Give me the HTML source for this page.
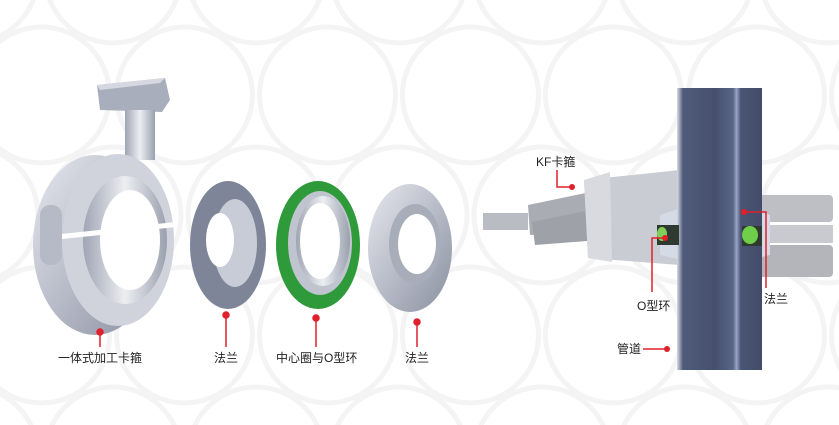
<!DOCTYPE html>
<html><head><meta charset="utf-8"><style>
html,body{margin:0;padding:0;background:#fff;width:839px;height:425px;overflow:hidden}
svg{display:block}
text{font-family:"Liberation Sans","Noto Sans CJK SC",sans-serif;font-size:12px;fill:#222}
</style></head><body>
<svg width="839" height="425" viewBox="0 0 839 425" xmlns="http://www.w3.org/2000/svg">
<defs>
<linearGradient id="met" x1="0" y1="0" x2="1" y2="1">
<stop offset="0" stop-color="#e6e8ee"/><stop offset=".5" stop-color="#b8bcc8"/><stop offset="1" stop-color="#8a8fa0"/></linearGradient>
<linearGradient id="met2" x1="0" y1="0" x2="1" y2="0">
<stop offset="0" stop-color="#a0a5b4"/><stop offset=".5" stop-color="#eceef2"/><stop offset="1" stop-color="#9aa0ae"/></linearGradient>
<linearGradient id="tube" x1="0" y1="0" x2="1" y2="0">
<stop offset="0" stop-color="#d8dce6"/><stop offset=".07" stop-color="#505a7a"/><stop offset=".45" stop-color="#46506e"/><stop offset=".66" stop-color="#5a6688"/><stop offset=".7" stop-color="#9aa6c8"/><stop offset=".75" stop-color="#4a5474"/><stop offset="1" stop-color="#434c6a"/></linearGradient>
<pattern id="bg" width="143" height="240" patternUnits="userSpaceOnUse" x="-30" y="-25">
<circle cx="0" cy="0" r="68" fill="none" stroke="#f4f4f4" stroke-width="5"/>
<circle cx="143" cy="0" r="68" fill="none" stroke="#f4f4f4" stroke-width="5"/>
<circle cx="0" cy="240" r="68" fill="none" stroke="#f4f4f4" stroke-width="5"/>
<circle cx="143" cy="240" r="68" fill="none" stroke="#f4f4f4" stroke-width="5"/>
<circle cx="71.5" cy="120" r="68" fill="none" stroke="#f4f4f4" stroke-width="5"/>
</pattern>
</defs>
<rect width="839" height="425" fill="#fff"/>
<rect width="839" height="425" fill="url(#bg)"/>

<!-- left clamp -->
<polygon points="97,85 165,78 170,100 162,112 100,110" fill="#a9aebc"/>
<polygon points="97,85 165,78 160,83 100,90" fill="#d5d8e0"/>
<rect x="125" y="110" width="30" height="50" fill="url(#met2)"/>
<ellipse cx="95" cy="245" rx="62" ry="90" fill="url(#met)"/>
<ellipse cx="118" cy="240" rx="56" ry="86" fill="#d0d3db"/>
<ellipse cx="125" cy="240" rx="42" ry="64" fill="url(#met2)"/>
<ellipse cx="130" cy="240" rx="30" ry="50" fill="#fff"/>
<rect x="40" y="230" width="135" height="5" fill="#fff" transform="rotate(-6 100 232)"/>
<rect x="40" y="205" width="22" height="60" rx="10" fill="#b6bac6"/>

<!-- flange 1 -->
<ellipse cx="228" cy="245" rx="38" ry="64" fill="#7e8598"/>
<ellipse cx="235" cy="243" rx="22" ry="44" fill="#c8ccd6"/>
<ellipse cx="220" cy="240" rx="14" ry="27" fill="#fff"/>
<!-- green ring -->
<ellipse cx="318" cy="245" rx="42" ry="64" fill="#2f9a3a"/>
<ellipse cx="320" cy="243" rx="32" ry="52" fill="#c0c4ce"/>
<ellipse cx="323" cy="241" rx="27" ry="45" fill="url(#met2)"/>
<ellipse cx="320" cy="241" rx="20" ry="38" fill="#fff"/>
<!-- flange 3 -->
<ellipse cx="410" cy="248" rx="42" ry="64" fill="url(#met)"/>
<ellipse cx="415" cy="244" rx="26" ry="40" fill="#a8adba"/>
<ellipse cx="417" cy="244" rx="19" ry="30" fill="#fff"/>

<g stroke="#e0202a" stroke-width="1.5" fill="#e0202a">
<line x1="100" y1="332" x2="100" y2="347"/><circle cx="100" cy="332" r="3"/>
<line x1="226" y1="315" x2="226" y2="347"/><circle cx="226" cy="315" r="3"/>
<line x1="316" y1="318" x2="316" y2="347"/><circle cx="316" cy="318" r="3"/>
<line x1="417" y1="322" x2="417" y2="347"/><circle cx="417" cy="322" r="3"/>
</g>
<text x="58" y="362">一体式加工卡箍</text>
<text x="214" y="362">法兰</text>
<text x="276" y="362">中心圈与O型环</text>
<text x="405" y="362">法兰</text>

<!-- right diagram -->
<rect x="483" y="213" width="45" height="17" fill="#b9bcc2"/>
<polygon points="528,205 600,190 620,230 530,235" fill="#a9acb2"/>
<polygon points="532,222 600,208 600,240 535,245" fill="#9ea1a8"/>
<polygon points="584,180 680,170 680,265 588,258" fill="#c9ccd2"/>
<polygon points="584,180 610,172 612,262 588,258" fill="#d8dadf"/>
<rect x="750" y="195" width="83" height="27" rx="4" fill="#bdbfc4"/>
<rect x="755" y="225" width="78" height="18" fill="#c8cacf"/>
<rect x="750" y="245" width="83" height="32" rx="4" fill="#b3b5ba"/>
<polygon points="660,215 690,205 690,262 660,255" fill="#d5dbe6"/>
<polygon points="740,205 770,215 770,255 740,262" fill="#d5dbe6"/>
<rect x="677" y="88" width="85" height="282" fill="url(#tube)"/>
<rect x="657" y="225" width="22" height="20" fill="#2f3a30"/>
<ellipse cx="662" cy="234" rx="5" ry="7" fill="#7fcf5a"/>
<rect x="742" y="226" width="20" height="20" fill="#2f3a30"/>
<ellipse cx="750" cy="235" rx="8" ry="9" fill="#6fcf4a"/>

<g stroke="#e0202a" stroke-width="1.5" fill="none">
<polyline points="557,170 557,187 572,187"/>
<polyline points="665,238 652,238 652,292"/>
<polyline points="744,212 766,212 766,288"/>
<line x1="643" y1="349" x2="667" y2="349"/>
</g>
<g fill="#e0202a">
<circle cx="572" cy="187" r="3"/><circle cx="665" cy="238" r="3"/>
<circle cx="744" cy="212" r="3"/><circle cx="667" cy="349" r="3"/>
</g>
<text x="536" y="166">KF卡箍</text>
<text x="637" y="310">O型环</text>
<text x="764" y="303">法兰</text>
<text x="617" y="353">管道</text>
</svg>
</body></html>
